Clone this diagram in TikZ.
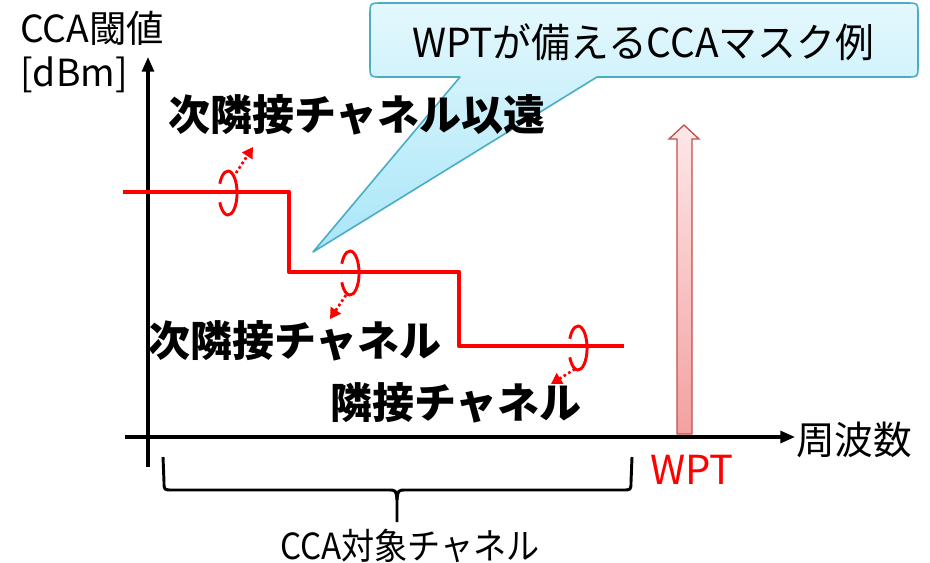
\documentclass[tikz,border=0pt]{standalone}
\usepackage{fontspec}
\setmainfont{Noto Sans CJK JP}
\newfontfamily\cjk{Noto Sans CJK JP}
\newfontfamily\cjkn{Noto Sans CJK JP}[FakeStretch=0.92]
\newfontfamily\cjkt{Noto Sans CJK JP}[FakeStretch=0.97]
\usetikzlibrary{arrows.meta}
\definecolor{calloutTop}{HTML}{E4F8FD}
\definecolor{calloutBot}{HTML}{A9E6F8}
\definecolor{calloutLine}{HTML}{4BACC6}
\definecolor{wptTop}{HTML}{FDE8E8}
\definecolor{wptBot}{HTML}{F4A0A0}
\definecolor{wptLine}{HTML}{C0504D}
\definecolor{maskred}{HTML}{FF0000}
\tikzset{
  axisline/.style={line width=2.3pt,-{Triangle[length=11pt,width=9pt]}},
  maskline/.style={maskred,line width=3.2pt,line join=round},
  ringarc/.style={maskred,line width=2.2pt},
  rotarrow/.style={maskred,line width=2pt,dotted,-{Triangle[length=8pt,width=9pt]}},
  bracestyle/.style={line width=2.2pt,line join=round},
  boldlabel/.style={inner sep=0pt,font=\cjk\bfseries\fontsize{31.5pt}{34pt}\selectfont},
  plainlabel/.style={inner sep=0pt,font=\cjk\fontsize{28pt}{30pt}\selectfont}
}
\begin{document}
\begin{tikzpicture}[x=0.75pt,y=-0.75pt]
\useasboundingbox (0,0) rectangle (930,562);

% callout
\shade[top color=calloutTop,bottom color=calloutBot,draw=calloutLine,line width=1.2pt,line join=round]
  (313,252) -- (460,77) -- (382,77) .. controls (370,77) .. (370,65) -- (370,15)
  .. controls (370,3) .. (382,3) -- (906,3) .. controls (918,3) .. (918,15) -- (918,65)
  .. controls (918,77) .. (906,77) -- (597,77) -- cycle;
\node[plainlabel,font=\cjkt\fontsize{30pt}{32pt}\selectfont] (title) at (643,42) {WPTが備えるCCAマスク例};

% axes
\coordinate (yb) at (148,467);
\coordinate (yt) at (148,57);
\coordinate (xl) at (125,437);
\coordinate (xr) at (795,437);
\draw[axisline] (yb) -- (yt);
\draw[axisline] (xl) -- (xr);
\node[plainlabel,anchor=west] (ylab1) at (20,28) {CCA閾値};
\node[plainlabel,anchor=west] (ylab2) at (20,75) {[dBm]};
\node[plainlabel,anchor=west,font=\cjk\fontsize{29pt}{31pt}\selectfont] (xlab) at (796,440) {周波数};

% mask step line
\coordinate (m0) at (123,192);
\coordinate (m1) at (289,192);
\coordinate (m2) at (289,272);
\coordinate (m3) at (459,272);
\coordinate (m4) at (459,346);
\coordinate (m5) at (624,346);
\draw[maskline] (m0) -- (m1) -- (m2) -- (m3) -- (m4) -- (m5);

% rings and dotted arrows
\coordinate (r1) at (228,193);
\coordinate (r2) at (350,273);
\coordinate (r3) at (578,348);
\foreach \r in {r1,r2,r3}{
  \draw[ringarc] (\r) ++(155:6.8pt and 16.5pt) arc[start angle=155,end angle=-155,x radius=6.8pt,y radius=16.5pt];
}
\coordinate (a1s) at (236,173);
\coordinate (a1e) at (253,147);
\coordinate (a2s) at (346,295);
\coordinate (a2e) at (330,319);
\coordinate (a3s) at (575,369);
\coordinate (a3e) at (551,384);
\draw[rotarrow] (a1s) -- (a1e);
\draw[rotarrow] (a2s) -- (a2e);
\draw[rotarrow] (a3s) -- (a3e);

% labels
\node[boldlabel] (far) at (357,115) {次隣接チャネル以遠};
\node[boldlabel] (next) at (295,341) {次隣接チャネル};
\node[boldlabel] (adj) at (456,403) {隣接チャネル};

% WPT arrow
\shade[top color=wptTop,bottom color=wptBot,draw=wptLine,line width=1pt,line join=miter]
  (677,434) -- (677,139) -- (669,139) -- (684,125) -- (699,139) -- (692,139) -- (692,434) -- cycle;
\node[plainlabel,text=maskred,font=\cjk\fontsize{30pt}{32pt}\selectfont] (wpt) at (692,470) {WPT};

% brace
\coordinate (bl) at (163,457);
\coordinate (br) at (632,457);
\coordinate (bt) at (397,522);
\draw[bracestyle] (bl) -- (164,482) .. controls (164,490) .. (173,490) -- (388,490)
  .. controls (396,490) .. (397,500) -- (bt);
\draw[bracestyle] (br) -- (631,482) .. controls (631,490) .. (622,490) -- (406,490)
  .. controls (398,490) .. (397,500);
\node[plainlabel,font=\cjkn\fontsize{27pt}{30pt}\selectfont] (target) at (410,546) {CCA対象チャネル};
\end{tikzpicture}
\end{document}
